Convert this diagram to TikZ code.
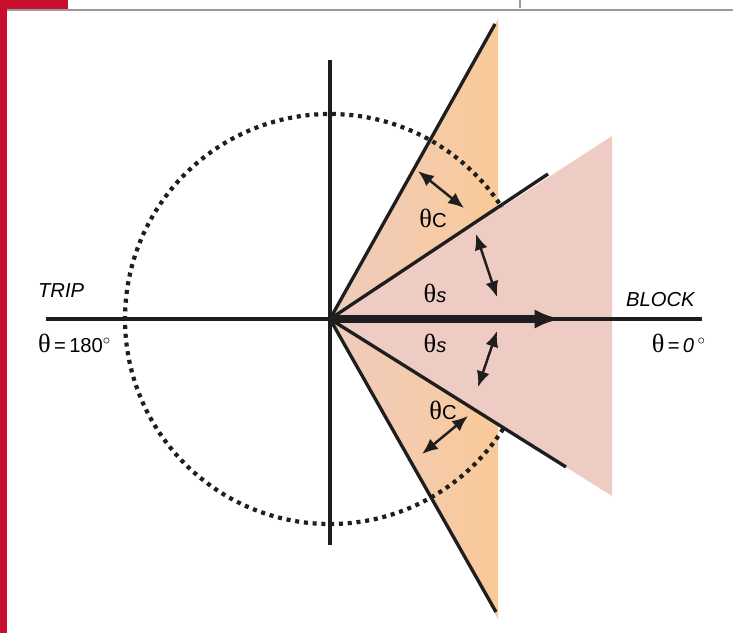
\documentclass[tikz,border=0pt]{standalone}
\usepackage{fontspec}
\setmainfont{Liberation Sans}
\newfontfamily\grk{Liberation Serif}
\usetikzlibrary{arrows.meta}
\definecolor{crimson}{HTML}{C8102E}
\definecolor{rulegray}{HTML}{9A9A9A}
\definecolor{blush}{HTML}{EECCC3}
\definecolor{peach}{HTML}{F9CA98}
\definecolor{ink}{HTML}{1E1E1E}
\newcommand{\thet}{{\grk\fontsize{15}{15}\selectfont θ}}
\tikzset{
  axis/.style={ink,line width=1.9pt},
  span/.style={ink,line width=1.4pt,{Latex[length=9pt,width=7.5pt]}-{Latex[length=9pt,width=7.5pt]}},
  lbl/.style={font=\fontsize{11.5}{13}\selectfont,inner sep=1pt}
}
\begin{document}
\begin{tikzpicture}[x=.02cm,y=.02cm]
\useasboundingbox (-330,-314) rectangle (403,319);
% page frame
\fill[crimson] (-330,319) rectangle (-262,309);
\fill[crimson] (-330,309) rectangle (-323,-314);
\draw[rulegray,line width=.6pt] (-323,309)--(403,309);
\draw[rulegray,line width=.6pt] (190,319)--(190,311);
% points
\coordinate (O) at (0,0);
\coordinate (cUp) at (165,295);   \coordinate (sUp) at (218,145);
\coordinate (sLo) at (236,-148);  \coordinate (cLo) at (166,-293);
% orange sector, circle, then pink sector over it
\shade[left color=blush!90!peach,right color=peach] (O)--(168,300)--(168,-300)--cycle;
\draw[ink,line width=2.4pt,dash pattern=on 2.3pt off 2.7pt] (O) circle (205);
\fill[blush] (O)--(282,183)--(282,-177)--cycle;
% axes and sector edges
\draw[axis] (-284,0)--(372,0);
\draw[axis] (0,259)--(0,-226);
\draw[axis] (O)--(cUp); \draw[axis] (O)--(sUp);
\draw[axis] (O)--(sLo); \draw[axis] (O)--(cLo);
\draw[ink,line width=4pt,-{Latex[length=15pt,width=11pt]}] (O)--(231,0);
% angle spans
\draw[span] (88,148)--(134,111);
\draw[span] (146,85)--(167,22);
\draw[span] (167,-12)--(148,-68);
\draw[span] (138,-97)--(92,-135);
% labels
\node[lbl] (tc1) at (103,101) {\thet C};
\node[lbl] (ts1) at (105,26) {\thet\textit{s}};
\node[lbl] (ts2) at (105,-24) {\thet\textit{s}};
\node[lbl] (tc2) at (113,-91) {\thet C};
\node[lbl,anchor=west] (trip) at (-294,28) {\textit{TRIP}};
\node[lbl,anchor=west] (t180) at (-294,-24) {\thet\,=\,180$^{\circ}$};
\node[lbl,anchor=west] (block) at (294,19) {\textit{BLOCK}};
\node[lbl,anchor=east] (t0) at (378,-24) {\thet\,=\,\textit{0}\,$^{\circ}$};
\end{tikzpicture}
\end{document}
